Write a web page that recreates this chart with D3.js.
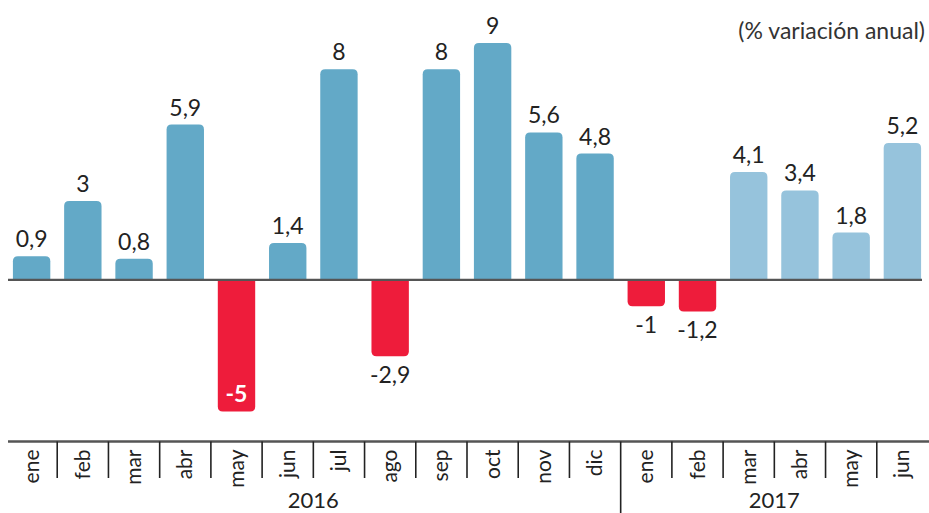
<!DOCTYPE html>
<html>
<head>
<meta charset="utf-8">
<script src="https://cdn.jsdelivr.net/npm/d3@7"></script>
<style>
  body { margin: 0; background: #fff; }
  svg { display: block; font-family: "Lato", "Open Sans", sans-serif; }
</style>
</head>
<body>
<svg id="chart" width="929" height="513"></svg>
<script>
// chart data
const months = ["ene", "feb", "mar", "abr", "may", "jun", "jul", "ago", "sep", "oct", "nov", "dic",
                "ene", "feb", "mar", "abr", "may", "jun"];
const years = ["2016", "2016", "2016", "2016", "2016", "2016", "2016", "2016", "2016", "2016", "2016", "2016",
               "2017", "2017", "2017", "2017", "2017", "2017"];
const values = [0.9, 3, 0.8, 5.9, -5, 1.4, 8, -2.9, 8, 9, 5.6, 4.8, -1, -1.2, 4.1, 3.4, 1.8, 5.2];
const yearLabels = ["2016", "2017"];
const unitLabel = "(% variación anual)";

const data = values.map((v, i) => ({ i: i, month: months[i], year: years[i], value: v }));

const svg = d3.select("#chart");
const fmt = d3.formatLocale({ decimal: ",", thousands: ".", grouping: [3], currency: ["", ""], minus: "-" }).format("~g");

const x = d3.scaleBand().domain(d3.range(data.length)).range([6, 928]).paddingInner(0.27).paddingOuter(0.135);
const y = d3.scaleLinear().domain([-5, 9]).range([411.5, 43]);
const step = x.step();
const x0 = 6;

function colorOf(d) {
  if (d.value < 0) return "#ee1c3b";
  return d.year === "2016" ? "#63a9c7" : "#96c3dc";
}

// bar with rounded outer end only
function barPath(d) {
  const bx = x(d.i), w = x.bandwidth();
  const r = 5;
  const zeroY = y(0);
  if (d.value >= 0) {
    const top = y(d.value), bot = zeroY - 1;
    return `M${bx},${bot}V${top + r}Q${bx},${top} ${bx + r},${top}H${bx + w - r}Q${bx + w},${top} ${bx + w},${top + r}V${bot}Z`;
  } else {
    const top = zeroY + 1, bot = y(d.value);
    return `M${bx},${top}V${bot - r}Q${bx},${bot} ${bx + r},${bot}H${bx + w - r}Q${bx + w},${bot} ${bx + w},${bot - r}V${top}Z`;
  }
}

svg.selectAll("path.bar")
  .data(data)
  .join("path")
  .attr("class", "bar")
  .attr("d", barPath)
  .attr("fill", colorOf);

// zero line
svg.append("line")
  .attr("x1", 8).attr("x2", 922)
  .attr("y1", y(0)).attr("y2", y(0))
  .attr("stroke", "#555").attr("stroke-width", 2.2);

// value labels
svg.selectAll("text.val")
  .data(data)
  .join("text")
  .attr("class", "val")
  .attr("x", d => x(d.i) + x.bandwidth() / 2)
  .attr("y", d => {
    if (d.value === -5) return y(d.value) - 10;
    return d.value >= 0 ? y(d.value) - 9 : y(d.value) + 27;
  })
  .attr("text-anchor", "middle")
  .attr("font-size", 23)
  .attr("font-weight", d => d.value === -5 ? "bold" : "normal")
  .attr("fill", d => d.value === -5 ? "#fff" : "#222")
  .text(d => fmt(d.value));

// bottom axis line
const axisY = 441.5;
svg.append("line")
  .attr("x1", 8).attr("x2", 929)
  .attr("y1", axisY).attr("y2", axisY)
  .attr("stroke", "#555").attr("stroke-width", 2.5);

// separators between months
svg.selectAll("line.sep")
  .data(d3.range(1, data.length))
  .join("line")
  .attr("class", "sep")
  .attr("x1", k => x0 + k * step).attr("x2", k => x0 + k * step)
  .attr("y1", axisY)
  .attr("y2", k => years[k] !== years[k - 1] ? 513 : 478)
  .attr("stroke", "#222").attr("stroke-width", 1.6);

// month labels
svg.selectAll("text.month")
  .data(data)
  .join("text")
  .attr("class", "month")
  .attr("transform", d => `translate(${x(d.i) + x.bandwidth() / 2 + 7},${axisY + 8}) rotate(-90)`)
  .attr("text-anchor", "end")
  .attr("font-size", 21)
  .attr("fill", "#222")
  .text(d => d.month);

// year labels
svg.selectAll("text.year")
  .data(yearLabels)
  .join("text")
  .attr("class", "year")
  .attr("x", yr => {
    const idx = data.filter(d => d.year === yr).map(d => d.i);
    return (x(d3.min(idx)) + x(d3.max(idx)) + x.bandwidth()) / 2;
  })
  .attr("y", 508)
  .attr("text-anchor", "middle")
  .attr("font-size", 22)
  .attr("fill", "#222")
  .text(yr => yr);

// unit note
svg.append("text")
  .attr("x", 925).attr("y", 39)
  .attr("text-anchor", "end")
  .attr("font-size", 23)
  .attr("fill", "#333")
  .text(unitLabel);
</script>
</body>
</html>
